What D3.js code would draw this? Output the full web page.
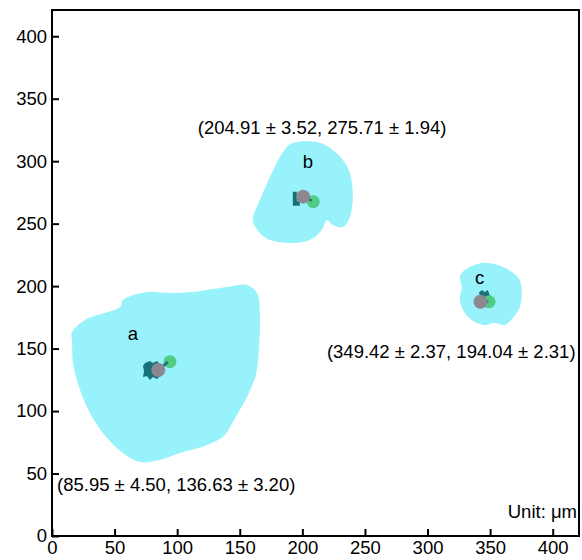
<!DOCTYPE html>
<html>
<head>
<meta charset="utf-8">
<script src="https://cdn.jsdelivr.net/npm/d3@7"></script>
<style>
  html, body { margin: 0; padding: 0; background: #fff; }
  svg { display: block; }
  text { font-family: "Liberation Sans", Arial, sans-serif; }
</style>
</head>
<body>
<svg id="chart" width="582" height="560"></svg>
<script>
// ---------- data (µm) ----------
const xTicks = [0, 50, 100, 150, 200, 250, 300, 350, 400];
const yTicks = [0, 50, 100, 150, 200, 250, 300, 350, 400];

const clusterNames = ["a", "b", "c"];

const blobA = [[15.7,162.5],[26.3,172.9],[54.3,183.3],[56.7,188.9],[75.9,195.3],[94.2,194.5],[112.6,195.3],
  [139.7,199.3],[155.7,200.9],[163.7,194.5],[166.1,178.5],[165.3,151.3],[162.9,128.9],[155.7,111.3],
  [145.3,92.8],[137.3,80.0],[123.8,72.8],[102.2,66.4],[86.2,60.8],[70.3,59.2],[56.7,66.4],[40.7,82.4],
  [30.3,98.4],[22.4,116.9],[16.8,138.5],[16.0,156.9]];
const blobB = [[192.4,314.6],[211.6,315.3],[224.4,308.9],[232.4,300.9],[237.9,290.5],[240.3,271.3],
  [237.9,255.3],[232.4,247.3],[224.4,248.9],[219.6,252.9],[215.6,244.9],[206.0,236.9],[190.0,234.5],
  [174.1,236.9],[166.1,242.5],[160.5,252.9],[166.1,268.9],[174.1,287.3],[182.1,303.3],[187.6,311.3]];
const blobC = [[329.8,212.9],[343.3,218.5],[356.1,216.9],[367.3,211.3],[373.7,204.9],[375.3,194.5],
  [373.7,183.3],[368.1,174.5],[361.7,168.9],[353.7,170.5],[345.7,168.9],[337.7,171.3],[329.8,178.5],
  [325.8,188.9],[327.4,199.3],[325.8,207.3]];

const coreA = [[74.3,138.5],[78.2,140.1],[80.6,138.5],[83.8,140.1],[86.2,137.7],[88.6,135.3],[87.8,128.9],
  [83.8,125.7],[80.6,127.3],[78.2,124.9],[75.9,128.1],[72.7,127.3],[73.5,132.1],[72.7,136.1]];
const coreB = [[192.4,275.6],[195.6,275.6],[195.6,268.4],[198.0,267.6],[198.0,264.4],[192.4,264.4]];
const coreC = [[340.9,194.5],[343.3,196.9],[345.7,195.3],[348.1,196.9],[349.7,192.9],[351.3,188.9],
  [350.5,184.1],[346.5,184.9]];

const trackA = [[84.6,132.9],[92.6,139.3]];
const trackB = [[200.7,271.6],[207.5,268.5]];
const trackC = [[342.3,187.5],[348.5,187.5]];

const greyX  = [84.9, 200.7, 342.3];
const greyY  = [132.9, 271.6, 187.5];
const greenX = [94.2, 208.7, 349.2];
const greenY = [139.5, 267.6, 187.5];

const coordLabels = [
  "(85.95 \u00b1 4.50, 136.63 \u00b1 3.20)",
  "(204.91 \u00b1 3.52, 275.71 \u00b1 1.94)",
  "(349.42 \u00b1 2.37, 194.04 \u00b1 2.31)"
];
const unitLabel = "Unit: \u03bcm";

// ---------- layout ----------
const svg = d3.select("#chart");
const L = 52, R = 579, T = 10, B = 536;
const x = d3.scaleLinear().domain([0, 421]).range([L, R]);
const y = d3.scaleLinear().domain([0, 421]).range([B, T]);
const FS = 18.5;

const blobs = [blobA, blobB, blobC];
const cores = [coreA, coreB, coreC];
const tracks = [trackA, trackB, trackC];

const blobLine = d3.line().x(d => x(d[0])).y(d => y(d[1])).curve(d3.curveCatmullRomClosed.alpha(0.5));
const coreLine = d3.line().x(d => x(d[0])).y(d => y(d[1])).curve(d3.curveLinearClosed);
const trackLine = d3.line().x(d => x(d[0])).y(d => y(d[1]));

const g = svg.append("g");
g.selectAll("path.blob").data(blobs).join("path")
  .attr("class", "blob").attr("d", blobLine).attr("fill", "#98f2fb");

g.selectAll("path.core").data(cores).join("path")
  .attr("class", "core").attr("d", coreLine).attr("fill", "#17707a");

g.selectAll("circle.green").data(greenX).join("circle")
  .attr("class", "green")
  .attr("cx", d => x(d)).attr("cy", (d, i) => y(greenY[i])).attr("r", 6.5)
  .attr("fill", "#50cc85");

g.selectAll("path.track").data(tracks).join("path")
  .attr("class", "track").attr("d", trackLine)
  .attr("stroke", "#17707a").attr("stroke-width", 2.5).attr("fill", "none");

g.selectAll("circle.grey").data(greyX).join("circle")
  .attr("class", "grey")
  .attr("cx", d => x(d)).attr("cy", (d, i) => y(greyY[i])).attr("r", 7)
  .attr("fill", "#8d8790");

// cluster letters
const letterPos = [[64.7, 156.9], [204.4, 294.5], [341.7, 201.7]];
g.selectAll("text.letter").data(clusterNames).join("text")
  .attr("class", "letter")
  .attr("x", (d, i) => x(letterPos[i][0])).attr("y", (d, i) => y(letterPos[i][1]))
  .attr("text-anchor", "middle").attr("font-size", FS).text(d => d);

// coordinate labels
const coordPos = [[4.0, 36.0, "start"], [215.8, 321.7, "middle"], [219.6, 142.5, "start"]];
g.selectAll("text.coord").data(coordLabels).join("text")
  .attr("class", "coord")
  .attr("x", (d, i) => x(coordPos[i][0])).attr("y", (d, i) => y(coordPos[i][1]))
  .attr("text-anchor", (d, i) => coordPos[i][2]).attr("font-size", FS).text(d => d);

svg.append("text").attr("x", R - 2).attr("y", 518).attr("text-anchor", "end")
  .attr("font-size", FS).text(unitLabel);

// ---------- axes ----------
const xAxis = d3.axisBottom(x).tickValues(xTicks).tickSize(-7).tickPadding(5).tickSizeOuter(0);
const yAxis = d3.axisLeft(y).tickValues(yTicks).tickSize(-7).tickPadding(5).tickSizeOuter(0);

const gx = svg.append("g").attr("transform", `translate(0,${B})`).call(xAxis);
const gy = svg.append("g").attr("transform", `translate(${L},0)`).call(yAxis);
[gx, gy].forEach(a => {
  a.select(".domain").remove();
  a.selectAll(".tick line").attr("stroke", "#000").attr("stroke-width", 2);
  a.selectAll(".tick text").attr("font-size", FS).attr("fill", "#000")
    .attr("font-family", "'Liberation Sans', Arial, sans-serif");
});

svg.append("rect").attr("x", L).attr("y", T).attr("width", R - L).attr("height", B - T)
  .attr("fill", "none").attr("stroke", "#000").attr("stroke-width", 2);
</script>
</body>
</html>
